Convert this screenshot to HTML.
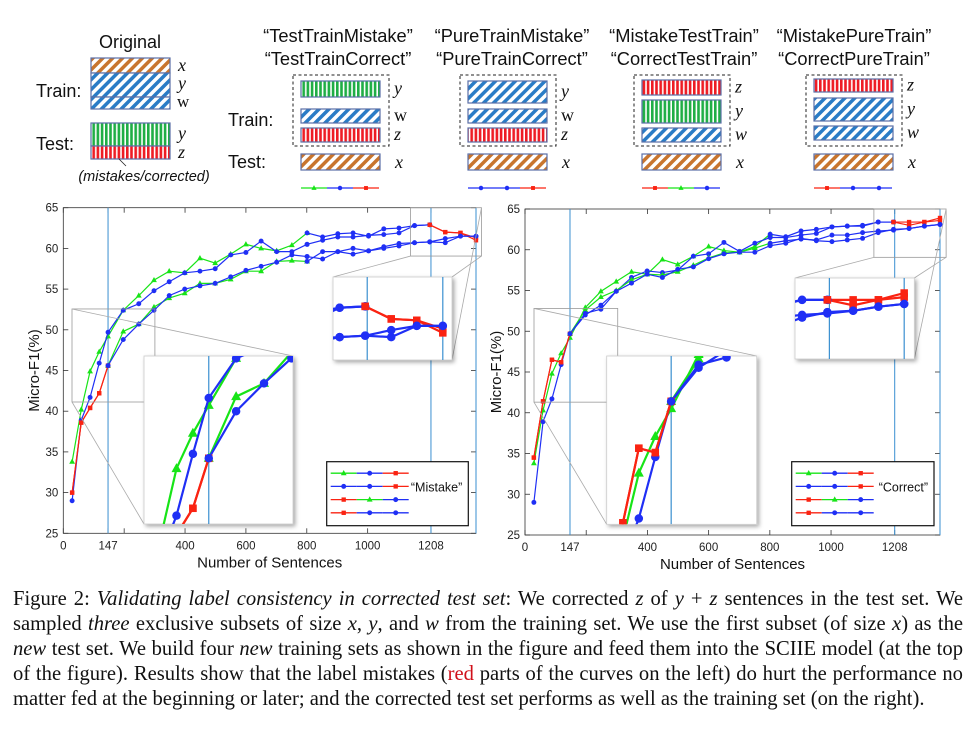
<!DOCTYPE html>
<html><head><meta charset="utf-8">
<style>
html,body{margin:0;padding:0;background:#fff;width:978px;height:730px;overflow:hidden}
#cap{position:absolute;left:13px;top:587px;width:950px;height:130px;font-family:"Liberation Serif",serif;font-size:20.6px;color:#111}
#cap div{height:25px;line-height:25px;text-align:justify;text-align-last:justify;white-space:nowrap;overflow:hidden}
#cap div.last{text-align-last:left}
#cap i{font-style:italic}
</style></head>
<body>
<svg id="fig" width="978" height="590" viewBox="0 0 978 590" xmlns="http://www.w3.org/2000/svg" style="position:absolute;left:0;top:0;font-family:'Liberation Sans',sans-serif">
<defs>
<pattern id="hOr" patternUnits="userSpaceOnUse" width="7" height="7" patternTransform="rotate(45)"><rect width="7" height="7" fill="#fff"/><rect width="3.5" height="7" fill="#c8752e"/></pattern>
<pattern id="hBl" patternUnits="userSpaceOnUse" width="7" height="7" patternTransform="rotate(45)"><rect width="7" height="7" fill="#fff"/><rect width="3.5" height="7" fill="#2a7cc6"/></pattern>
<pattern id="hGr" patternUnits="userSpaceOnUse" width="4.2" height="10"><rect width="4.2" height="10" fill="#fff"/><rect width="2.6" height="10" fill="#1fae45"/></pattern>
<pattern id="hRd" patternUnits="userSpaceOnUse" width="4.2" height="10"><rect width="4.2" height="10" fill="#fff"/><rect width="2.6" height="10" fill="#ee1c24"/></pattern>
<filter id="sh" x="-10%" y="-10%" width="130%" height="130%"><feDropShadow dx="2" dy="2" stdDeviation="2" flood-color="#000" flood-opacity="0.35"/></filter>
</defs>
<g id="diagram"></g>
<g id="chartL"></g>
<g id="chartR"></g>
</svg>
<div id="cap">
<div>Figure 2: <i>Validating label consistency in corrected test set</i>: We corrected <i>z</i> of <i>y</i> + <i>z</i> sentences in the test set. We</div>
<div>sampled <i>three</i> exclusive subsets of size <i>x</i>, <i>y</i>, and <i>w</i> from the training set. We use the first subset (of size <i>x</i>) as the</div>
<div><i>new</i> test set. We build four <i>new</i> training sets as shown in the figure and feed them into the SCIIE model (at the top</div>
<div>of the figure). Results show that the label mistakes (<span style="color:#d0101a">red</span> parts of the curves on the left) do hurt the performance no</div>
<div class="last">matter fed at the beginning or later; and the corrected test set performs as well as the training set (on the right).</div>
</div>
<script>
// ---- chart data ----
const sentences = [29,59,88,118,147,197,248,298,348,399,449,499,550,600,650,701,751,801,852,902,952,1003,1053,1103,1154,1204,1255,1305,1356];
const yTicks = [25,30,35,40,45,50,55,60,65];
const xTicks = [0,147,400,600,800,1000,1208];
const xMinor = [200];
const mistakeA = [33.8,40.2,44.9,47.3,49.2,52.4,54.2,56.1,57.2,57.0,58.8,58.2,59.3,60.5,60.0,59.7,60.4,61.9,61.4,61.8,61.9,61.5,62.4,62.5,62.8,62.9,62.0,61.9,61.3];
const mistakeB = [29.0,38.9,41.7,45.9,49.7,52.4,53.2,54.8,55.9,57.0,57.2,57.5,59.2,59.5,60.9,59.6,59.6,60.5,61.0,61.4,61.4,61.6,61.7,61.9,62.8,62.9,62.0,61.9,61.0];
const mistakeC = [30.0,38.6,40.4,42.2,45.6,49.8,50.7,52.8,53.9,54.5,55.7,55.7,56.2,57.2,57.2,58.4,58.5,58.4,59.6,59.6,59.3,59.7,60.2,60.6,60.7,60.8,61.2,61.5,61.5];
const mistakeD = [30.0,38.6,40.4,42.2,45.6,48.8,50.7,52.4,54.2,55.0,55.4,55.7,56.5,57.3,57.8,58.3,59.2,59.0,58.7,59.6,60.0,59.7,60.0,60.3,60.7,60.8,60.7,61.5,61.5];
const correctA = [33.8,40.3,44.8,47.3,49.2,52.9,54.9,56.1,57.3,57.0,58.8,58.2,59.2,60.4,59.9,59.7,60.4,61.9,61.6,62.3,62.5,62.8,62.9,63.0,63.4,63.4,63.4,63.4,63.9];
const correctB = [29.0,38.9,41.7,45.9,49.7,52.0,53.2,54.9,56.6,57.4,57.2,57.5,59.2,59.5,60.9,59.8,60.8,61.5,61.5,61.8,62.0,62.8,62.9,62.9,63.4,63.4,63.0,63.4,63.6];
const correctC = [34.5,41.4,46.5,46.2,49.7,52.6,54.2,55.0,56.3,57.0,56.9,57.3,58.1,59.0,59.6,59.7,60.2,60.8,61.1,61.3,61.2,61.8,61.8,62.1,62.3,62.4,62.6,62.9,63.1];
const correctD = [34.5,41.4,46.5,46.2,49.7,52.2,52.7,54.9,55.9,57.0,56.6,57.6,57.9,58.9,59.5,59.7,59.7,60.5,60.8,61.4,61.1,61.0,61.2,61.4,62.1,62.5,62.6,62.9,63.1];
// segment colour order per series (y/w/z training order)
const segA = ['g','b','r'], segB = ['b','b','r'], segC = ['r','g','b'], segD = ['r','b','b'];
const segBreaks = [[0,17],[17,25],[25,28]];
const segBreaksCD = [[0,4],[4,17],[17,28]];
const vLines = [147,1208,1356];

const NS='http://www.w3.org/2000/svg';
const COL={g:'#17e417',b:'#1f2ff5',r:'#fa2312'};
function el(tag,attrs,parent){const e=document.createElementNS(NS,tag);for(const k in attrs)e.setAttribute(k,attrs[k]);if(parent)parent.appendChild(e);return e;}
function txt(s,attrs,parent){const e=el('text',attrs,parent);e.textContent=s;return e;}
function marker(g,type,x,y,s){
  let m;
  if(type==='g'){m=el('polygon',{points:`${x},${y-s*1.1} ${x-s},${y+s*0.7} ${x+s},${y+s*0.7}`,fill:COL.g},g);}
  else if(type==='b'){m=el('circle',{cx:x,cy:y,r:s*0.85,fill:COL.b},g);}
  else {m=el('rect',{x:x-s*0.75,y:y-s*0.75,width:s*1.5,height:s*1.5,fill:COL.r},g);}
  
  
}
function drawSeries(g,vals,segs,breaks,sx,sy,ms,lw,name){
  const sg=el('g',{},g);
  
  
  segs.forEach((c,i)=>{
    const [a,b]=breaks[i];
    let d='';
    for(let k=a;k<=b;k++)d+=(k===a?'M':'L')+sx(sentences[k]).toFixed(2)+','+sy(vals[k]).toFixed(2);
    const p=el('path',{d:d,fill:'none',stroke:COL[c],'stroke-width':lw},sg);
    
    
  });
  segs.forEach((c,i)=>{
    const [a,b]=breaks[i];
    for(let k=a;k<=b;k++)marker(sg,c,sx(sentences[k]),sy(vals[k]),ms);
  });
}
function drawChart(root,geo,series,label){
  const {x0,x1,y0,y1}=geo;
  const sx=v=>x0+v/1356*(x1-x0);
  const sy=v=>y1-(v-25)/40*(y1-y0);
  el('rect',{x:x0,y:y0,width:x1-x0,height:y1-y0,fill:'none',stroke:'#333','stroke-width':0.8},root);
  yTicks.forEach(t=>{
    const y=sy(t);
    el('line',{x1:x0,x2:x0+5,y1:y,y2:y,stroke:'#333','stroke-width':0.8},root);
    el('line',{x1:x1,x2:x1-5,y1:y,y2:y,stroke:'#333','stroke-width':0.8},root);
    const t1=txt(String(t),{x:x0-5,y:y+4,'font-size':11.5,'text-anchor':'end',fill:'#222'},root);
    
    
  });
  xTicks.concat(xMinor).forEach(t=>{
    const x=sx(t);
    el('line',{x1:x,x2:x,y1:y1,y2:y1-5,stroke:'#333','stroke-width':0.8},root);
    el('line',{x1:x,x2:x,y1:y0,y2:y0+5,stroke:'#333','stroke-width':0.8},root);
  });
  xTicks.forEach(t=>{
    const t1=txt(String(t),{x:sx(t),y:y1+16,'font-size':11.5,'text-anchor':'middle',fill:'#222'},root);
    
    
  });
  vLines.forEach(v=>{el('line',{x1:sx(v),x2:sx(v),y1:y0,y2:y1,stroke:'#3a8fd0','stroke-width':1},root);});
  const yl=txt('Micro-F1(%)',{x:0,y:0,'font-size':15,'text-anchor':'middle',fill:'#111',transform:`translate(${geo.ylx},${(y0+y1)/2}) rotate(-90)`},root);
  
  
  const xl=txt('Number of Sentences',{x:(x0+x1)/2,y:y1+34,'font-size':15,'text-anchor':'middle',fill:'#111'},root);
  
  
  const defs=[[segA,segBreaks],[segB,segBreaks],[segC,segBreaksCD],[segD,segBreaksCD]];
  series.forEach((vals,i)=>drawSeries(root,vals,defs[i][0],defs[i][1],sx,sy,2.9,1.2,'series-'+'abcd'[i]));
  geo.insets.forEach((ins,ii)=>{
    const [sxa,sxb,sya,syb]=ins.src;
    const [dx,dy,dw,dh]=ins.dst;
    const rx0=sx(sxa),rx1=sx(sxb),ry0=sy(sya),ry1=sy(syb);
    el('rect',{x:rx0,y:ry0,width:rx1-rx0,height:ry1-ry0,fill:'none',stroke:'#999','stroke-width':0.8},root);
    ins.links.forEach(l=>{
      const p=[[rx0,ry0],[rx1,ry0],[rx0,ry1],[rx1,ry1]][l[0]];
      const q=[[dx,dy],[dx+dw,dy],[dx,dy+dh],[dx+dw,dy+dh]][l[1]];
      el('line',{x1:p[0],y1:p[1],x2:q[0],y2:q[1],stroke:'#aaa','stroke-width':0.8},root);
    });
    const ig=el('g',{},root);
    
    
    el('rect',{x:dx,y:dy,width:dw,height:dh,fill:'#fff',stroke:'#ccc','stroke-width':0.8,filter:'url(#sh)'},ig);
    const cid='clip'+root.id+ii;
    const cp=el('clipPath',{id:cid},ig);
    el('rect',{x:dx,y:dy,width:dw,height:dh},cp);
    const cg=el('g',{'clip-path':`url(#${cid})`},ig);
    const isx=v=>dx+(v-sxa)/(sxb-sxa)*dw;
    const isy=v=>dy+(sya-v)/(sya-syb)*dh;
    vLines.forEach(v=>{if(v>sxa&&v<sxb)el('line',{x1:isx(v),x2:isx(v),y1:dy,y2:dy+dh,stroke:'#3a8fd0','stroke-width':1.2},cg);});
    series.forEach((vals,i)=>drawSeries(cg,vals,defs[i][0],defs[i][1],isx,isy,5,2.2,'inset-series-'+'abcd'[i]));
  });
  const L=geo.legend;
  const lg=el('g',{},root);
  
  
  el('rect',{x:L.x,y:L.y,width:L.w,height:L.h,fill:'#fff',stroke:'#111','stroke-width':1.2},lg);
  [segA,segB,segC,segD].forEach((s,i)=>{
    const e=el('g',{},lg);
    
    
    const yy=L.y+11.5+i*13.2, xa=L.x+4, seg=26;
    s.forEach((c,k)=>{
      el('line',{x1:xa+k*seg,x2:xa+(k+1)*seg,y1:yy,y2:yy,stroke:COL[c],'stroke-width':1.3},e);
      marker(e,c,xa+k*seg+13,yy,2.9);
    });
  });
  const lt=txt(label,{x:L.x+L.w-6,y:L.y+30,'font-size':12.5,'text-anchor':'end',fill:'#111'},lg);
  
  
}
drawChart(document.getElementById('chartL'),
 {x0:63.3,x1:476,y0:207.7,y1:533.3,ylx:39,
  insets:[{src:[28.6,301,52.56,41.13],dst:[144,356,149,168],links:[[0,1],[2,2]]},
          {src:[1141,1374,65,59.06],dst:[333,277,119,83],links:[[2,0],[3,1],[1,3]]}],
  legend:{x:326.7,y:461.7,w:141.6,h:64}},
 [mistakeA,mistakeB,mistakeC,mistakeD],'\u201cMistake\u201d');
drawChart(document.getElementById('chartR'),
 {x0:525,x1:940,y0:209,y1:535,ylx:501,
  insets:[{src:[29.4,303,52.8,41.3],dst:[606.7,356,150,168.3],links:[[0,1],[2,2]]},
          {src:[1140,1376,65,59.07],dst:[795,278,119.3,81],links:[[2,0],[3,1],[1,3]]}],
  legend:{x:791.7,y:461.7,w:142.3,h:64}},
 [correctA,correctB,correctC,correctD],'\u201cCorrect\u201d');

// ---- top diagram ----
const D=document.getElementById('diagram');
function bar(x,y,w,h,fill,name){const r=el('rect',{x:x,y:y,width:w,height:h,fill:`url(#${fill})`,stroke:'#5b6fa6','stroke-width':1.2},D);}
function lab(s,x,y,size,italic,anchor,name,serif){const t=txt(s,{x:x,y:y,'font-size':size,'text-anchor':anchor||'start',fill:'#111','font-style':italic?'italic':'normal','font-family':serif?"'Liberation Serif',serif":"'Liberation Sans',sans-serif"},D);}
function dbox(x,y,w,h){const r=el('rect',{x:x,y:y,width:w,height:h,fill:'none',stroke:'#222','stroke-width':1,'stroke-dasharray':'3,2.5'},D);}
function chain(x,y,s){s.forEach((c,k)=>{el('line',{x1:x+k*26,x2:x+(k+1)*26,y1:y,y2:y,stroke:COL[c],'stroke-width':1.3},D);marker(D,c,x+k*26+13,y,2.6);});}
lab('Original',130,48,18,false,'middle','original-title');
bar(91,58,79,15,'hOr','train-x-bar');bar(91,73,79,24,'hBl','train-y-bar');bar(91,97,79,12,'hBl','train-w-bar');
lab('x',178,71,18,true,'start','label-x',true);lab('y',178,89,18,true,'start','label-y',true);lab('w',177,107,17,false,'start','label-w',true);
lab('Train:',36,97,18,false,'start','train-label');
bar(91,123,79,23,'hGr','test-y-bar');bar(91,146,79,13,'hRd','test-z-bar');
lab('y',178,139,18,true,'start','label-y',true);lab('z',178,158,18,true,'start','label-z',true);
lab('Test:',36,150,18,false,'start','test-label');
el('line',{x1:119,y1:159,x2:126,y2:166,stroke:'#222','stroke-width':0.8},D);
lab('(mistakes/corrected)',144,181,14.5,true,'middle','mistakes-note');
const panels=[
 {cx:338,t1:'\u201cTestTrainMistake\u201d',t2:'\u201cTestTrainCorrect\u201d',box:293,bars:[['hGr',81,16,'y'],['hBl',109,14,'w'],['hRd',128,14,'z']],chain:['g','b','r']},
 {cx:512,t1:'\u201cPureTrainMistake\u201d',t2:'\u201cPureTrainCorrect\u201d',box:460,bars:[['hBl',81,22,'y'],['hBl',109,14,'w'],['hRd',128,14,'z']],chain:['b','b','r']},
 {cx:684,t1:'\u201cMistakeTestTrain\u201d',t2:'\u201cCorrectTestTrain\u201d',box:634,bars:[['hRd',80,15,'z'],['hGr',100,23,'y'],['hBl',128,14,'w']],chain:['r','g','b']},
 {cx:854,t1:'\u201cMistakePureTrain\u201d',t2:'\u201cCorrectPureTrain\u201d',box:806,bars:[['hRd',79,13,'z'],['hBl',98,23,'y'],['hBl',126,14,'w']],chain:['r','b','b']}
];
panels.forEach((p,i)=>{
  lab(p.t1,p.cx,42,18.3,false,'middle','panel-title');
  lab(p.t2,p.cx,65,18.3,false,'middle','panel-title');
  dbox(p.box,75,96,71);
  const bx=p.box+8;
  p.bars.forEach(b=>{bar(bx,b[1],79,b[2],b[0],'train-'+b[3]+'-bar');lab(b[3],p.box+101,b[1]+b[2]/2+5,18,b[3]!=='w'||i>1,'start','label-'+b[3],true);});
  bar(bx,154,79,16,'hOr','test-x-bar');
  lab('x',p.box+102,168,18,true,'start','label-x',true);
  chain(bx,188,p.chain);
});
lab('Train:',228,126,18,false,'start','train-label');
lab('Test:',228,168,18,false,'start','test-label');
</script>
</body></html>
